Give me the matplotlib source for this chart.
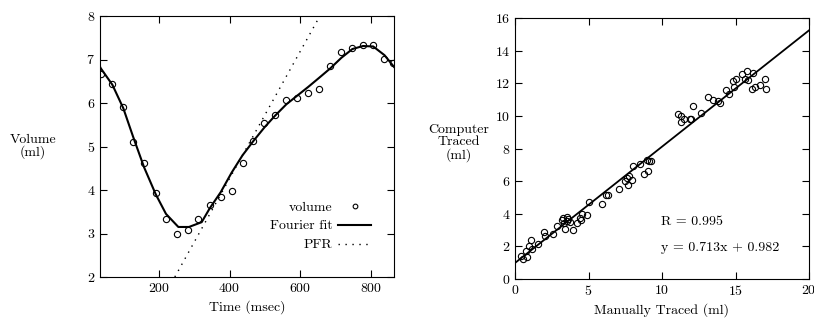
import matplotlib
matplotlib.use("Agg")
import matplotlib.pyplot as plt

# =========================
# data: left panel (volume curve)
# =========================
t_ms = [35, 68, 99, 127, 158, 191, 220, 250, 281, 312, 344, 375, 406, 437,
        467, 499, 528, 561, 592, 623, 654, 686, 717, 748, 778, 807, 839, 864]
volume = [6.66, 6.44, 5.91, 5.10, 4.63, 3.93, 3.34, 2.99, 3.07, 3.34, 3.66, 3.85, 3.97, 4.63,
          5.13, 5.55, 5.73, 6.06, 6.12, 6.23, 6.33, 6.85, 7.17, 7.26, 7.34, 7.34, 7.01, 6.91]

fit_t = [31, 35, 68, 99, 127, 158, 191, 220, 255, 285, 321, 344, 375, 406, 437,
         467, 499, 528, 561, 592, 623, 654, 686, 717, 748, 778, 807, 839, 866]
fit_v = [6.87, 6.80, 6.42, 5.88, 5.22, 4.52, 3.90, 3.45, 3.15, 3.15, 3.26, 3.58, 3.95, 4.40, 4.80,
         5.12, 5.44, 5.70, 5.97, 6.17, 6.37, 6.58, 6.80, 7.04, 7.24, 7.31, 7.30, 7.10, 6.83]

pfr_t = [245, 656]
pfr_v = [2.0, 8.0]

# =========================
# data: right panel (manual vs computer)
# =========================
manual = [0.39, 0.57, 0.79, 0.73, 0.95, 1.07, 1.13, 1.54, 1.97, 2.04, 2.56, 2.83, 3.17, 3.29,
          3.33, 3.40, 3.51, 3.56, 3.63, 3.74, 3.92, 4.24, 4.42, 4.54, 4.47, 4.88, 5.06, 5.94,
          6.19, 6.35, 7.10, 7.48, 7.60, 7.71, 7.78, 7.94, 8.00, 8.50, 8.78, 8.96, 9.07, 9.14,
          9.23, 11.07, 11.29, 11.32, 11.50, 11.90, 11.99, 12.13, 12.63, 13.15, 13.45, 13.83,
          13.95, 14.35, 14.58, 14.85, 15.03, 14.90, 15.42, 15.65, 15.76, 15.87, 16.21, 16.10,
          16.33, 16.67, 17.01, 17.07]
computer = [1.43, 1.23, 1.35, 1.70, 2.00, 2.37, 1.84, 2.17, 2.86, 2.62, 2.78, 3.27, 3.64, 3.74,
            3.44, 3.07, 3.80, 3.54, 3.68, 3.48, 3.03, 3.44, 3.74, 4.01, 3.60, 3.95, 4.70, 4.62,
            5.17, 5.17, 5.54, 5.99, 6.20, 5.79, 6.30, 6.09, 6.91, 7.03, 6.42, 7.32, 6.65, 7.26,
            7.22, 10.12, 10.02, 9.61, 9.82, 9.78, 9.82, 10.63, 10.18, 11.15, 10.96, 10.90,
            10.76, 11.57, 11.35, 12.13, 12.23, 11.78, 12.54, 12.23, 12.74, 12.19, 12.60, 11.66,
            11.78, 11.92, 12.23, 11.62]

slope = 0.713
intercept = 0.982
line_x = [0, 20]
line_y = [intercept + slope * x for x in line_x]

# =========================
# style
# =========================
plt.rcParams['font.family'] = ['cmr10', 'DejaVu Serif']
plt.rcParams['axes.formatter.use_mathtext'] = True
plt.rcParams['font.size'] = 10
plt.rcParams['xtick.direction'] = 'in'
plt.rcParams['ytick.direction'] = 'in'
plt.rcParams['xtick.top'] = True
plt.rcParams['ytick.right'] = True
plt.rcParams['xtick.major.size'] = 5
plt.rcParams['ytick.major.size'] = 5

fig = plt.figure(figsize=(8.14, 3.24), dpi=100)
ax1 = fig.add_axes([100 / 814, 1 - 277 / 324, 294 / 814, 261 / 324])
ax2 = fig.add_axes([515 / 814, 1 - 279 / 324, 294 / 814, 261 / 324])

# =========================
# left panel
# =========================
ax1.plot(t_ms, volume, 'o', mfc='none', mec='black', ms=4.5, mew=0.8, label='volume')
ax1.plot(fit_t, fit_v, '-', color='black', lw=1.5, label='Fourier fit')
ax1.plot(pfr_t, pfr_v, linestyle=(0, (1, 4)), color='black', lw=1.0, label='PFR')
ax1.set_xlim(33, 866)
ax1.set_ylim(2, 8)
ax1.set_xticks([200, 400, 600, 800])
ax1.set_yticks([2, 3, 4, 5, 6, 7, 8])
ax1.set_xlabel('Time (msec)', labelpad=4)
ax1.set_ylabel('Volume\n(ml)', rotation=0, ha='center', va='center', linespacing=1.0)
ax1.yaxis.set_label_coords(-0.228, 0.5)
ax1.legend(loc='lower right', bbox_to_anchor=(0.965, 0.05), frameon=False, markerfirst=False,
           handlelength=2.4, handletextpad=0.4, labelspacing=0.45, markerscale=0.75,
           fontsize=10)

# =========================
# right panel
# =========================
ax2.plot(manual, computer, 'o', mfc='none', mec='black', ms=4.5, mew=0.8)
ax2.plot(line_x, line_y, '-', color='black', lw=1.3)
ax2.set_xlim(0, 20)
ax2.set_ylim(0, 16)
ax2.set_xticks([0, 5, 10, 15, 20])
ax2.set_yticks(range(0, 17, 2))
ax2.set_xlabel('Manually Traced (ml)', labelpad=4)
ax2.set_ylabel('Computer\nTraced\n(ml)', rotation=0, ha='center', va='center', linespacing=1.0)
ax2.yaxis.set_label_coords(-0.19, 0.52)
ax2.text(9.9, 3.47, 'R = 0.995', ha='left', va='center')
ax2.text(9.9, 1.9, 'y = 0.713x + 0.982', ha='left', va='center')

fig.savefig('out.png', dpi=100)
